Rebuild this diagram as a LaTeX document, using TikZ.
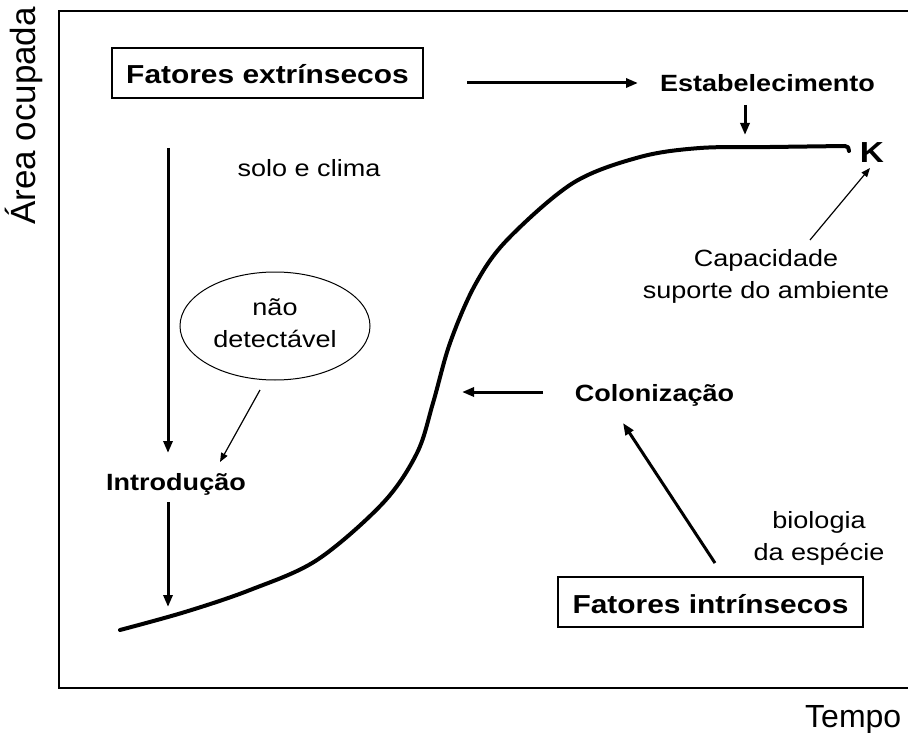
\documentclass[tikz,border=0pt]{standalone}
\usepackage{fontspec}
\setmainfont{Liberation Sans}[FakeStretch=1.15]
\newfontfamily\axisfont{Liberation Sans}
\usetikzlibrary{arrows.meta,shapes.geometric}
\tikzset{
  titlebox/.style={draw, line width=1.3pt, minimum height=50pt, inner sep=0pt,
    text height=22pt, text depth=0pt, font=\fontsize{26}{30}\selectfont\bfseries},
  lbl/.style={inner sep=0pt, anchor=base, font=\fontsize{23.5}{32}\selectfont\bfseries},
  txt/.style={inner sep=0pt, align=center, font=\fontsize{23.5}{32}\selectfont},
  thk/.style={line width=3pt, -{Triangle[length=12pt,width=9pt]}},
  thn/.style={line width=1.2pt, -{Triangle[length=9pt,width=7pt]}},
  curve/.style={line width=4pt, line cap=round, line join=round}
}
\begin{document}
\begin{tikzpicture}[x=1pt,y=-1pt]
\useasboundingbox (0,0) rectangle (908,733);
\clip (0,0) rectangle (908,733);
% frame
\coordinate (ftr) at (910,11);
\coordinate (ftl) at (59,11);
\coordinate (fbl) at (59,688);
\coordinate (fbr) at (910,688);
\draw[line width=1.3pt] (ftr) -- (ftl) -- (fbl) -- (fbr);
% axis labels
\node[inner sep=0pt, anchor=base, rotate=90, font=\axisfont\fontsize{35}{40}\selectfont] (ylab) at (35,116) {Área ocupada};
\node[inner sep=0pt, anchor=base west, font=\axisfont\fontsize{32}{40}\selectfont] (xlab) at (805,727) {Tempo};
% boxes
\node[titlebox, minimum width=311pt] (ext) at (267.5,73) {Fatores extrínsecos};
\node[titlebox, minimum width=305pt] (int) at (710.5,602) {Fatores intrínsecos};
% labels
\node[lbl] (estab) at (767.5,91.7) {Estabelecimento};
\node[lbl] (colon) at (654.5,401.7) {Colonização};
\node[lbl] (intro) at (176,490) {Introdução};
\node[inner sep=0pt, anchor=base, font=\fontsize{29}{32}\selectfont\bfseries] (K) at (872,163) {K};
\node[txt, anchor=base] (solo) at (309,177) {solo e clima};
\node[txt, anchor=north] (cap) at (766,249.4) {Capacidade\\suporte do ambiente};
\node[txt, anchor=north] (bio) at (819,511.2) {biologia\\da espécie};
\node[txt, draw, line width=1pt, ellipse, minimum width=190pt, minimum height=108pt] (nd) at (275,326) {não\\detectável\rule[-6pt]{0pt}{0pt}};
% curve
\draw[curve] plot[smooth, tension=0.55] coordinates {(120,630) (185,612) (250,590) (317,560) (383,503) (417,453) (433,403) (450,343) (475,285) (507,240) (573,183) (640,157) (700,148) (770,147) (845,146)} .. controls (848,146) and (849,148) .. (849,151);
% connector end points
\coordinate (a1s) at (467,83);
\coordinate (a1e) at (638,83);
\coordinate (a2s) at (745,105);
\coordinate (a2e) at (745,135);
\coordinate (a3s) at (168,148);
\coordinate (a3e) at (168,453);
\coordinate (a4s) at (168,502);
\coordinate (a4e) at (168,607);
\coordinate (a5s) at (260,390);
\coordinate (a5e) at (220,462);
\coordinate (a6s) at (543,392);
\coordinate (a6e) at (462,392);
\coordinate (a7s) at (715,563);
\coordinate (a7e) at (623,423);
\coordinate (a8s) at (810,240);
\coordinate (a8e) at (870,168);
% connectors
\draw[thk] (a1s) -- (a1e);
\draw[thk] (a2s) -- (a2e);
\draw[thk] (a3s) -- (a3e);
\draw[thk] (a4s) -- (a4e);
\draw[thn] (a5s) -- (a5e);
\draw[thk] (a6s) -- (a6e);
\draw[thk] (a7s) -- (a7e);
\draw[thn] (a8s) -- (a8e);
\end{tikzpicture}
\end{document}
